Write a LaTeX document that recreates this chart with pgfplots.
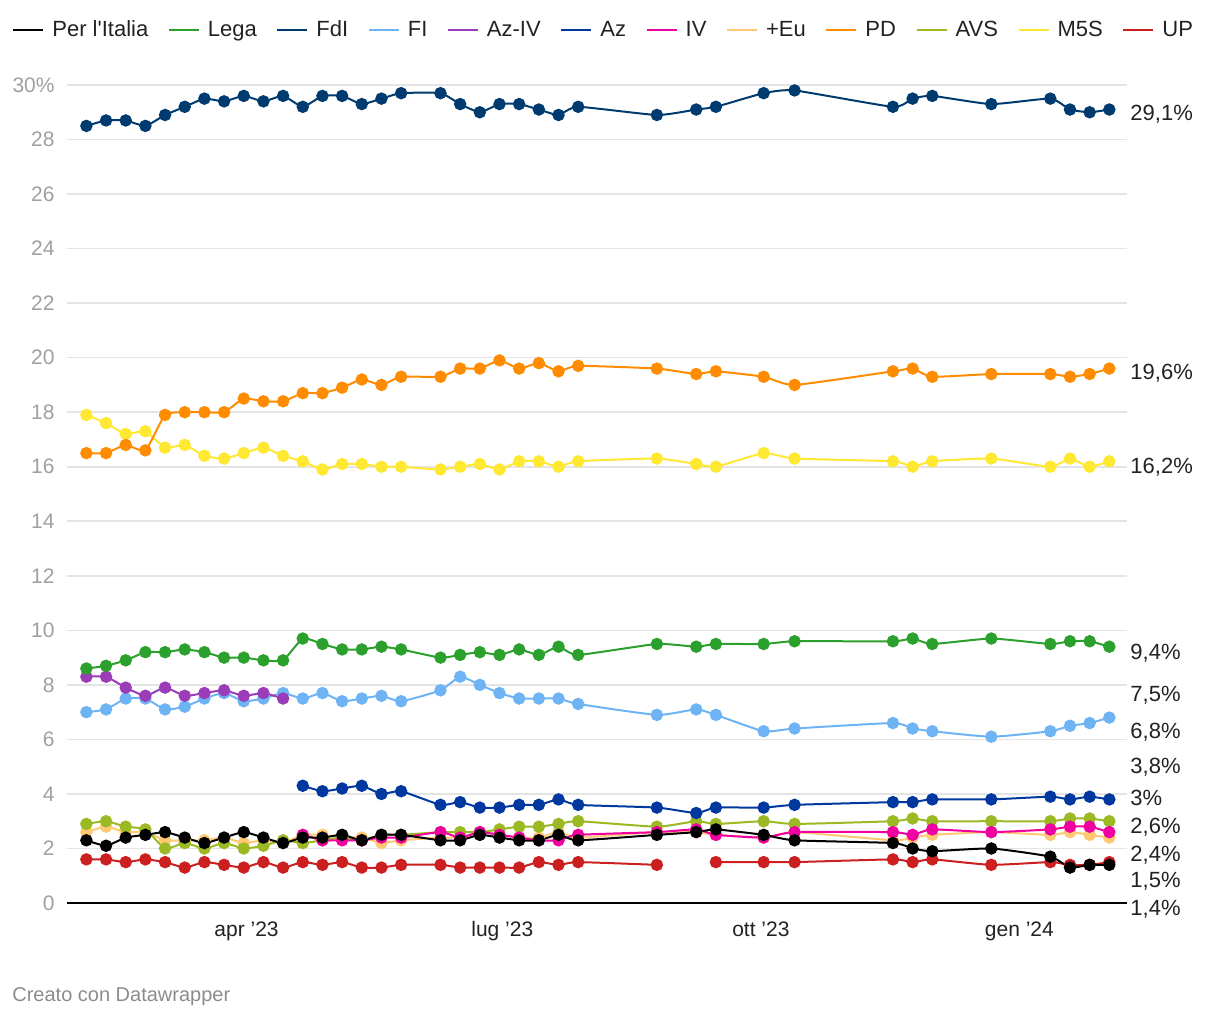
\documentclass[border=0pt]{standalone}
\usepackage{pgfplots}
\usepackage{pgfplotstable}
\pgfplotsset{compat=1.18}
\usepackage{fontspec}
\setmainfont{Liberation Sans}
\definecolor{cPLI}{RGB}{0,0,0}
\definecolor{cLega}{RGB}{44,160,44}
\definecolor{cFdI}{RGB}{0,59,111}
\definecolor{cFI}{RGB}{110,180,245}
\definecolor{cAzIV}{RGB}{155,60,185}
\definecolor{cAz}{RGB}{0,56,160}
\definecolor{cIV}{RGB}{240,0,160}
\definecolor{cEu}{RGB}{255,200,115}
\definecolor{cPD}{RGB}{255,140,0}
\definecolor{cAVS}{RGB}{155,185,35}
\definecolor{cM5S}{RGB}{255,232,50}
\definecolor{cUP}{RGB}{204,32,32}
\definecolor{gridc}{RGB}{228,228,228}
\definecolor{txt}{RGB}{34,34,34}
\definecolor{ylab}{RGB}{160,160,160}
\definecolor{foot}{RGB}{140,140,140}

\pgfplotstableread{
day FdI PD M5S Lega FI AVS PLI Eu
33 28.5 16.5 17.9 8.6 7.0 2.9 2.3 2.6
40 28.7 16.5 17.6 8.7 7.1 3.0 2.1 2.8
47 28.7 16.8 17.2 8.9 7.5 2.8 2.4 2.6
54 28.5 16.6 17.3 9.2 7.5 2.7 2.5 2.6
61 28.9 17.9 16.7 9.2 7.1 2.0 2.6 2.3
68 29.2 18.0 16.8 9.3 7.2 2.2 2.4 2.3
75 29.5 18.0 16.4 9.2 7.5 2.0 2.2 2.3
82 29.4 18.0 16.3 9.0 7.7 2.2 2.4 2.4
89 29.6 18.5 16.5 9.0 7.4 2.0 2.6 2.2
96 29.4 18.4 16.7 8.9 7.5 2.1 2.4 2.3
103 29.6 18.4 16.4 8.9 7.7 2.3 2.2 2.2
110 29.2 18.7 16.2 9.7 7.5 2.2 2.4 2.5
117 29.6 18.7 15.9 9.5 7.7 2.3 2.4 2.5
124 29.6 18.9 16.1 9.3 7.4 2.4 2.5 2.4
131 29.3 19.2 16.1 9.3 7.5 2.3 2.3 2.4
138 29.5 19.0 16.0 9.4 7.6 2.5 2.5 2.2
145 29.7 19.3 16.0 9.3 7.4 2.5 2.5 2.3
159 29.7 19.3 15.9 9.0 7.8 2.6 2.3 2.4
166 29.3 19.6 16.0 9.1 8.3 2.6 2.3 2.4
173 29.0 19.6 16.1 9.2 8.0 2.6 2.5 2.6
180 29.3 19.9 15.9 9.1 7.7 2.7 2.4 2.5
187 29.3 19.6 16.2 9.3 7.5 2.8 2.3 2.4
194 29.1 19.8 16.2 9.1 7.5 2.8 2.3 2.4
201 28.9 19.5 16.0 9.4 7.5 2.9 2.5 2.6
208 29.2 19.7 16.2 9.1 7.3 3.0 2.3 2.4
236 28.9 19.6 16.3 9.5 6.9 2.8 2.5 2.6
250 29.1 19.4 16.1 9.4 7.1 3.0 2.6 2.6
257 29.2 19.5 16.0 9.5 6.9 2.9 2.7 2.5
274 29.7 19.3 16.5 9.5 6.3 3.0 2.5 2.4
285 29.8 19.0 16.3 9.6 6.4 2.9 2.3 2.6
320 29.2 19.5 16.2 9.6 6.6 3.0 2.2 2.3
327 29.5 19.6 16.0 9.7 6.4 3.1 2.0 2.4
334 29.6 19.3 16.2 9.5 6.3 3.0 1.9 2.5
355 29.3 19.4 16.3 9.7 6.1 3.0 2.0 2.6
376 29.5 19.4 16.0 9.5 6.3 3.0 1.7 2.5
383 29.1 19.3 16.3 9.6 6.5 3.1 1.3 2.6
390 29.0 19.4 16.0 9.6 6.6 3.1 1.4 2.5
397 29.1 19.6 16.2 9.4 6.8 3.0 1.4 2.4
}\main

\pgfplotstableread{
day v
33 8.3
40 8.3
47 7.9
54 7.6
61 7.9
68 7.6
75 7.7
82 7.8
89 7.6
96 7.7
103 7.5
}\aziv

\pgfplotstableread{
day Az IV
110 4.3 2.5
117 4.1 2.3
124 4.2 2.3
131 4.3 2.3
138 4.0 2.4
145 4.1 2.4
159 3.6 2.6
166 3.7 2.4
173 3.5 2.6
180 3.5 2.5
187 3.6 2.4
194 3.6 2.3
201 3.8 2.3
208 3.6 2.5
236 3.5 2.6
250 3.3 2.7
257 3.5 2.5
274 3.5 2.4
285 3.6 2.6
320 3.7 2.6
327 3.7 2.5
334 3.8 2.7
355 3.8 2.6
376 3.9 2.7
383 3.8 2.8
390 3.9 2.8
397 3.8 2.6
}\azt

\pgfplotstableread{
day v
33 1.6
40 1.6
47 1.5
54 1.6
61 1.5
68 1.3
75 1.5
82 1.4
89 1.3
96 1.5
103 1.3
110 1.5
117 1.4
124 1.5
131 1.3
138 1.3
145 1.4
159 1.4
166 1.3
173 1.3
180 1.3
187 1.3
194 1.5
201 1.4
208 1.5
236 1.4
}\upa

\pgfplotstableread{
day v
257 1.5
274 1.5
285 1.5
320 1.6
327 1.5
334 1.6
355 1.4
376 1.5
383 1.4
390 1.4
397 1.5
}\upb

\begin{document}
\begin{tikzpicture}
\begin{axis}[
  scale only axis, width=530pt, height=409pt,
  xmin=26.1, xmax=403.3, ymin=0, ymax=30,
  clip=false,
  axis line style={draw=none},
  major tick length=0pt,
  ymajorgrids, grid style={color=gridc, line width=0.8pt},
  xtick={90,181,273,365},
  xticklabels={apr ’23, lug ’23, ott ’23, gen ’24},
  ytick={2,4,...,30},
  yticklabels={2,4,6,8,10,12,14,16,18,20,22,24,26,28,30\%},
  extra y ticks={0}, extra y tick labels={0},
  extra y tick style={grid=none},
  xticklabel style={font=\fontsize{10.5}{12}\selectfont, text=txt, anchor=north, inner sep=0pt, yshift=-9pt},
  yticklabel style={font=\fontsize{10.5}{12}\selectfont, text=ylab, anchor=east, inner sep=0pt, xshift=-6pt},
  legend columns=12,
  legend image code/.code={\draw[#1, line width=1pt] (0pt,0pt) -- (15pt,0pt);},
  legend style={at={(-0.0519,1.0672)}, anchor=west, draw=none, fill=none, inner sep=0pt,
    font=\fontsize{11}{13}\selectfont, text=txt,
    nodes={inner sep=0pt, anchor=west},
    /tikz/every odd column/.append style={column sep=4pt},
    /tikz/every even column/.append style={column sep=9.8pt}},
  series/.style={smooth, tension=0.3, line width=1pt, color=#1, mark=*, mark size=2.6pt,
    mark options={solid, draw=none, fill=#1}, forget plot},
]
\addlegendimage{cPLI}\addlegendentry{Per l\textquotesingle Italia}
\addlegendimage{cLega}\addlegendentry{Lega}
\addlegendimage{cFdI}\addlegendentry{FdI}
\addlegendimage{cFI}\addlegendentry{FI}
\addlegendimage{cAzIV}\addlegendentry{Az-IV}
\addlegendimage{cAz}\addlegendentry{Az}
\addlegendimage{cIV}\addlegendentry{IV}
\addlegendimage{cEu}\addlegendentry{+Eu}
\addlegendimage{cPD}\addlegendentry{PD}
\addlegendimage{cAVS}\addlegendentry{AVS}
\addlegendimage{cM5S}\addlegendentry{M5S}
\addlegendimage{cUP}\addlegendentry{UP}

\draw[black, line width=1pt] (rel axis cs:0,0) -- (rel axis cs:1,0);

\addplot[series=cM5S] table[x=day, y=M5S] {\main};
\addplot[series=cPD] table[x=day, y=PD] {\main};
\addplot[series=cFdI] table[x=day, y=FdI] {\main};
\addplot[series=cFI] table[x=day, y=FI] {\main};
\addplot[series=cAzIV] table[x=day, y=v] {\aziv};
\addplot[series=cLega] table[x=day, y=Lega] {\main};
\addplot[series=cEu] table[x=day, y=Eu] {\main};
\addplot[series=cAVS] table[x=day, y=AVS] {\main};
\addplot[series=cIV] table[x=day, y=IV] {\azt};
\addplot[series=cAz] table[x=day, y=Az] {\azt};
\addplot[series=cUP] table[x=day, y=v] {\upa};
\addplot[series=cUP] table[x=day, y=v] {\upb};
\addplot[series=cPLI] table[x=day, y=PLI] {\main};

\begin{scope}[every node/.style={anchor=base west, font=\fontsize{11}{13}\selectfont, text=txt, inner sep=0pt, xshift=1.5pt, yshift=-3.9pt}]
\node at (axis cs:403.3,29.0) {29,1\%};
\node at (axis cs:403.3,19.47) {19,6\%};
\node at (axis cs:403.3,16.02) {16,2\%};
\node at (axis cs:403.3,9.2) {9,4\%};
\node at (axis cs:403.3,7.66) {7,5\%};
\node at (axis cs:403.3,6.31) {6,8\%};
\node at (axis cs:403.3,5.03) {3,8\%};
\node at (axis cs:403.3,3.85) {3\%};
\node at (axis cs:403.3,2.82) {2,6\%};
\node at (axis cs:403.3,1.80) {2,4\%};
\node at (axis cs:403.3,0.84) {1,5\%};
\node at (axis cs:403.3,-0.18) {1,4\%};
\end{scope}
\node[anchor=west, inner sep=0pt, font=\fontsize{10}{12}\selectfont, text=foot] at (rel axis cs:-0.0519,-0.1149) {Creato con Datawrapper};
\coordinate (bbsw) at (rel axis cs:-0.0632,-0.143);
\coordinate (bbne) at (rel axis cs:1.0877,1.1039);
\end{axis}
\path (bbsw) rectangle (bbne);
\end{tikzpicture}
\end{document}
